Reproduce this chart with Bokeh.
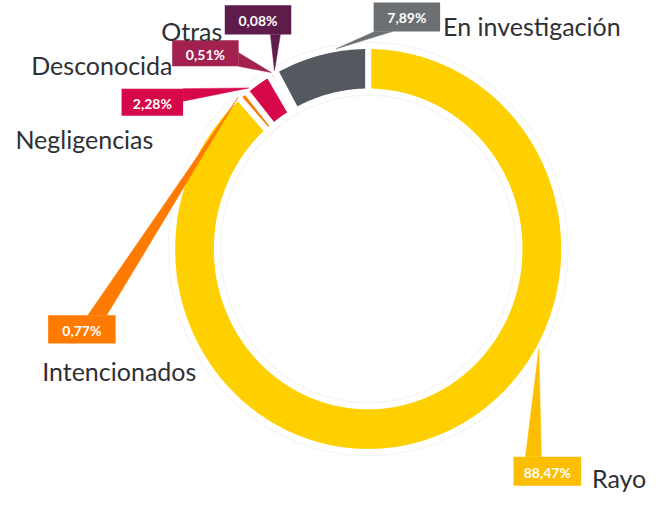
import numpy as np
from bokeh.plotting import figure
from bokeh.models import Range1d, ColumnDataSource
from bokeh.core.properties import value
from bokeh.embed import file_html
from bokeh.resources import INLINE

# ---- data ----
categories = ["Rayo", "Intencionados", "Negligencias", "Desconocida", "Otras", "En investigación"]
values = [88.47, 0.77, 2.28, 0.51, 0.08, 7.89]
pct_labels = [f"{v:.2f}".replace(".", ",") + "%" for v in values]

# ---- styles ----
slice_colors = ["#ffd000", "#ff7a00", "#d6084a", "#a2214f", "#5e1c4b", "#54595f"]
box_colors = ["#fcbe00", "#ff7a00", "#d6084a", "#a2214f", "#5e1c4b", "#6d7073"]
FONT = "Lato"
NAME_COLOR = "#2d3136"

# ---- layout (pixel positions in reference coords) ----
CX, CY = 370.5, 262.5
RXO, RYO = 197.5, 209.5
RXI, RYI = 152.5, 162.5

# box: left, top, w, h ; base: side, a, b ; tip_frac ; name: x, baseline
layout = {
    "Rayo":             dict(box=(517, 477, 68, 30), base=("top", 12, 28), tip=0.375, name=(596, 499)),
    "Intencionados":    dict(box=(48, 331, 68, 29), base=("top", 40, 59), tip=0.0, name=(42, 388)),
    "Negligencias":     dict(box=(122, 97, 62, 28), base=("right", 0, 13), tip=0.15, name=(15, 149)),
    "Desconocida":      dict(box=(173, 47, 67, 27), base=("right", 13, 27), tip=0.5, name=(31, 73)),
    "Otras":            dict(box=(226, 11, 67, 30), base=("bottom", 46, 56), tip=0.5, name=(162, 37)),
    "En investigación": dict(box=(376, 8, 67, 30), base=("bottom", 1, 19), tip=0.67, name=(446, 32)),
}

p = figure(width=650, height=494, output_backend="svg", toolbar_location=None,
           x_range=Range1d(0, 655), y_range=Range1d(516, 6), min_border=0)
p.axis.visible = False
p.grid.visible = False
p.outline_line_color = None
p.background_fill_color = "white"
p.border_fill_color = "white"

total = float(sum(values))
cum = np.concatenate([[0.0], np.cumsum(values)]) / total * 2 * np.pi

def ell(t, rx, ry):
    return CX + rx * np.sin(t), CY - ry * np.cos(t)

xs, ys = [], []
for i in range(len(values)):
    a0, a1 = cum[i], cum[i + 1]
    n = max(3, int(np.degrees(a1 - a0) * 2))
    t = np.linspace(a0, a1, n)
    xo, yo = ell(t, RXO, RYO)
    xi, yi = ell(t[::-1], RXI, RYI)
    xs.append(list(np.concatenate([xo, xi])))
    ys.append(list(np.concatenate([yo, yi])))

# faint shadow
p.patches(xs=xs, ys=ys, fill_alpha=0, line_color="#000000", line_alpha=0.035, line_width=9)
p.patches(xs=xs, ys=ys, fill_color=slice_colors, line_color="white", line_width=6)

# connectors
cxs, cys = [], []
for i, c in enumerate(categories):
    L = layout[c]
    bl, bt, bw, bh = L["box"]
    side, a, b = L["base"]
    if side == "top":
        p1, p2 = (bl + a, bt), (bl + b, bt)
    elif side == "bottom":
        p1, p2 = (bl + a, bt + bh), (bl + b, bt + bh)
    else:
        p1, p2 = (bl + bw, bt + a), (bl + bw, bt + b)
    ta = cum[i] + L["tip"] * (cum[i + 1] - cum[i])
    tx, ty = ell(ta, RXO, RYO)
    cxs.append([p1[0], p2[0], float(tx)])
    cys.append([p1[1], p2[1], float(ty)])
p.patches(xs=cxs, ys=cys, fill_color=box_colors, line_color=box_colors, line_width=0.5)

# boxes
lefts = [layout[c]["box"][0] for c in categories]
tops = [layout[c]["box"][1] for c in categories]
rights = [layout[c]["box"][0] + layout[c]["box"][2] for c in categories]
bottoms = [layout[c]["box"][1] + layout[c]["box"][3] for c in categories]
p.quad(left=lefts, right=rights, top=tops, bottom=bottoms, fill_color=box_colors, line_color=None)

src = ColumnDataSource(dict(
    x=[(l + r) / 2 for l, r in zip(lefts, rights)],
    y=[(t + b) / 2 + 1 for t, b in zip(tops, bottoms)],
    text=pct_labels,
))
p.text(x="x", y="y", text="text", source=src, text_color="white", text_font=value(FONT),
       text_font_style="bold", text_font_size="14px", text_align="center", text_baseline="middle")

nsrc = ColumnDataSource(dict(
    x=[layout[c]["name"][0] for c in categories],
    y=[layout[c]["name"][1] for c in categories],
    text=categories,
))
p.text(x="x", y="y", text="text", source=nsrc, text_color=NAME_COLOR, text_font=value(FONT),
       text_font_size="25px", text_align="left", text_baseline="alphabetic")

open("out.html", "w").write(file_html(p, INLINE))
